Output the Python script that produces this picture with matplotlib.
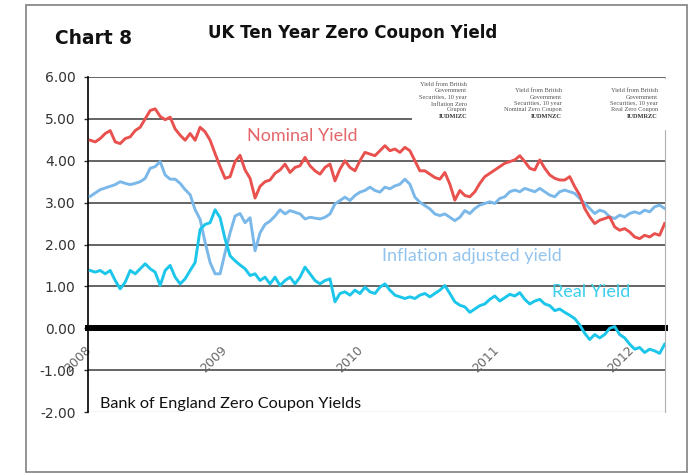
import matplotlib
matplotlib.use("Agg")
import matplotlib.pyplot as plt
from matplotlib.patches import Rectangle
import pandas as pd

plt.rcParams['axes.unicode_minus'] = False

W, H, DPI = 699, 475, 100

# ---------------- data ----------------
obs_dates = pd.date_range("2007-12-23", "2012-03-15", periods=116)

nominal = [4.49, 4.45, 4.53, 4.65, 4.72, 4.45, 4.41, 4.53, 4.57, 4.72, 4.80, 5.00, 5.20,
           5.24, 5.06, 4.98, 5.04, 4.76, 4.61, 4.49, 4.65, 4.49, 4.80, 4.69, 4.49, 4.17,
           3.86, 3.58, 3.62, 3.98, 4.13, 3.78, 3.58, 3.11, 3.39, 3.50, 3.54, 3.70, 3.78,
           3.92, 3.72, 3.84, 3.88, 4.08, 3.88, 3.76, 3.68, 3.84, 3.92, 3.52, 3.80, 4.00,
           3.84, 3.76, 4.00, 4.20, 4.16, 4.12, 4.24, 4.36, 4.24, 4.28, 4.20, 4.32, 4.24,
           4.00, 3.76, 3.76, 3.68, 3.60, 3.56, 3.72, 3.44, 3.06, 3.29, 3.17,
           3.14, 3.26, 3.46, 3.62, 3.70, 3.78, 3.86, 3.94, 3.98, 4.02, 4.12, 3.98, 3.82,
           3.78, 4.02, 3.82, 3.66, 3.58, 3.54, 3.54, 3.62, 3.38, 3.18, 2.86, 2.66, 2.50,
           2.58, 2.62, 2.66, 2.42, 2.34, 2.38, 2.30, 2.18, 2.14, 2.22, 2.18, 2.26, 2.22, 2.50]

inflation = [3.15, 3.23, 3.31, 3.35, 3.39, 3.43, 3.50, 3.46, 3.43, 3.46, 3.50, 3.58, 3.82,
             3.86, 3.98, 3.66, 3.56, 3.56, 3.46, 3.31, 3.19, 2.83, 2.60, 2.05, 1.57, 1.30,
             1.30, 1.81, 2.28, 2.68, 2.74, 2.52, 2.64, 1.85, 2.28, 2.48, 2.56, 2.68, 2.83,
             2.73, 2.81, 2.77, 2.73, 2.61, 2.65, 2.63, 2.61, 2.65, 2.73, 2.97, 3.05, 3.13,
             3.05, 3.17, 3.25, 3.29, 3.37, 3.29, 3.25, 3.37, 3.33, 3.40, 3.44, 3.56, 3.44,
             3.13, 3.01, 2.93, 2.85, 2.73, 2.69, 2.73, 2.65, 2.57, 2.65, 2.81,
             2.74, 2.86, 2.94, 2.98, 3.02, 2.98, 3.10, 3.14, 3.26, 3.30, 3.26, 3.34, 3.30,
             3.26, 3.34, 3.26, 3.18, 3.14, 3.26, 3.30, 3.26, 3.22, 3.10, 2.98, 2.86, 2.74,
             2.82, 2.78, 2.66, 2.62, 2.70, 2.66, 2.74, 2.78, 2.74, 2.82, 2.78, 2.90, 2.94, 2.86]

real = [1.38, 1.34, 1.38, 1.30, 1.38, 1.14, 0.94, 1.10, 1.38, 1.30, 1.42, 1.54, 1.42,
        1.34, 1.02, 1.38, 1.50, 1.22, 1.06, 1.18, 1.38, 1.57, 2.36, 2.48, 2.52, 2.83,
        2.64, 2.13, 1.73, 1.61, 1.51, 1.42, 1.26, 1.30, 1.14, 1.22, 1.06, 1.22, 1.02,
        1.14, 1.22, 1.06, 1.22, 1.46, 1.30, 1.14, 1.06, 1.14, 1.18, 0.63, 0.83, 0.87,
        0.79, 0.91, 0.83, 0.98, 0.87, 0.83, 0.98, 1.06, 0.91, 0.79, 0.75, 0.71, 0.75,
        0.71, 0.79, 0.83, 0.75, 0.83, 0.91, 1.02, 0.83, 0.63, 0.55, 0.51,
        0.38, 0.46, 0.54, 0.58, 0.69, 0.77, 0.65, 0.73, 0.81, 0.77, 0.85, 0.69, 0.58,
        0.65, 0.69, 0.58, 0.54, 0.42, 0.46, 0.38, 0.31, 0.23, 0.08, -0.12, -0.27, -0.15,
        -0.23, -0.15, 0.00, 0.04, -0.15, -0.23, -0.38, -0.50, -0.46, -0.58, -0.50, -0.54,
        -0.60, -0.38]

y_ticks = [-2, -1, 0, 1, 2, 3, 4, 5, 6]
grid_levels = [-1, 1, 2, 3, 4, 5, 6]
year_labels = ["2008", "2009", "2010", "2011", "2012"]

series_notes = [
    ["Yield from British", "Government", "Securities, 10 year", "Inflation Zero",
     "Coupon", "IUDMIZC"],
    ["Yield from British", "Government", "Securities, 10 year", "Nominal Zero Coupon",
     "IUDMNZC"],
    ["Yield from British", "Government", "Securities, 10 year", "Real Zero Coupon",
     "IUDMRZC"],
]

# ---------------- styling ----------------
c_nom, c_inf, c_real = "#E8514E", "#7BB8EA", "#1BC6EA"
c_nom_t, c_inf_t, c_real_t = "#E4676A", "#93C4EE", "#3BCFEB"


def fx(x):
    return x / W


def fy(y):
    return 1 - y / H


fig = plt.figure(figsize=(W / DPI, H / DPI), dpi=DPI)
ax = fig.add_axes([fx(88), fy(412), (665 - 88) / W, (412 - 77) / H])

# outer frame
fig.add_artist(Rectangle((fx(26), fy(472)), (687 - 26) / W, (472 - 5) / H,
                         transform=fig.transFigure, fill=False,
                         edgecolor="#8a8a8a", linewidth=1.3))

ax.set_ylim(-2, 6)
ax.set_xlim(pd.Timestamp("2007-12-17"), pd.Timestamp("2012-03-16"))

for g in grid_levels:
    ax.axhline(g, color="#3a3a3a", linewidth=1.1, zorder=1)
ax.axhline(-2, color="#a0a0a0", linewidth=0.9, zorder=1)

ax.plot(obs_dates, inflation, color=c_inf, linewidth=2.1, zorder=3)
ax.plot(obs_dates, nominal, color=c_nom, linewidth=2.1, zorder=3)
ax.plot(obs_dates, real, color=c_real, linewidth=2.1, zorder=3)

ax.spines["top"].set_visible(False)
ax.spines["right"].set_color("#b0b0b0")
ax.spines["right"].set_linewidth(0.8)
ax.spines["left"].set_color("black")
ax.spines["left"].set_linewidth(1.2)
ax.spines["bottom"].set_position(("data", 0))
ax.spines["bottom"].set_color("black")
ax.spines["bottom"].set_linewidth(4.3)
ax.spines["bottom"].set_zorder(2)

ax.set_yticks(y_ticks)
ax.set_yticklabels([f"{v:.2f}" for v in y_ticks], fontsize=10, color="#333333",
                   family="DejaVu Sans")
ax.tick_params(axis="y", length=3, width=1, color="#333333", pad=6)

ax.set_xticks([pd.Timestamp(f"{y}-01-01") for y in year_labels])
ax.set_xticklabels(year_labels, rotation=45, ha="right", va="top",
                   fontsize=9, color="#666666", family="DejaVu Sans")
ax.tick_params(axis="x", length=0, pad=11)

# white header area with the series notes
ax.add_patch(Rectangle((0.5615, 0.842), 0.46, 0.152, transform=ax.transAxes,
                       facecolor="white", edgecolor="none", zorder=4, clip_on=False))
note_right = [467, 562, 658]
line_rows = [85, 91, 97.5, 104, 110, 116]
for lines, xr in zip(series_notes, note_right):
    rows = line_rows[len(line_rows) - len(lines):]
    for i, (ln, yc) in enumerate(zip(lines, rows)):
        last = i == len(lines) - 1
        fig.text(fx(xr), fy(yc), ln, ha="right", va="center",
                 fontsize=4.6, family="Liberation Serif",
                 color="#333333" if last else "#555555",
                 fontweight="bold" if last else "normal", zorder=5)

# titles
fig.text(fx(55), fy(38), "Chart 8", fontsize=13.4, fontweight="bold",
         family="DejaVu Sans", ha="left", va="center", color="#111111")
fig.text(fx(208), fy(33), "UK Ten Year Zero Coupon Yield", fontsize=12,
         fontweight="bold", family="DejaVu Sans", ha="left", va="center",
         color="#111111")

# series labels
fig.text(fx(247), fy(141), "Nominal Yield", fontsize=13, family="Lato",
         color=c_nom_t, ha="left", va="baseline")
fig.text(fx(382), fy(261), "Inflation adjusted yield", fontsize=13, family="Lato",
         color=c_inf_t, ha="left", va="baseline")
fig.text(fx(552), fy(297), "Real Yield", fontsize=13, family="Lato",
         color=c_real_t, ha="left", va="baseline")
fig.text(fx(100), fy(408), "Bank of England Zero Coupon Yields", fontsize=11.7,
         family="Lato", color="#111111", ha="left", va="baseline")

fig.savefig("out.png", dpi=DPI)
